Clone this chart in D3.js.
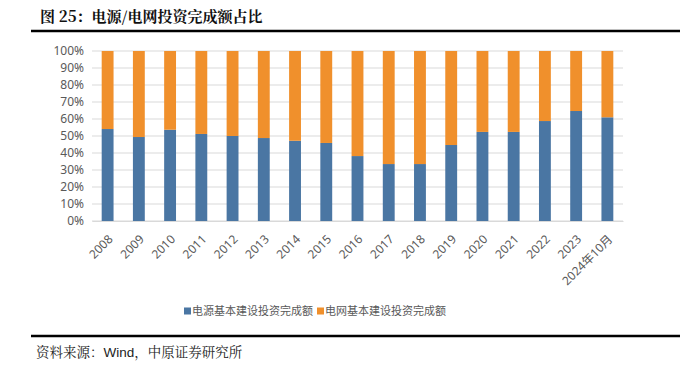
<!DOCTYPE html>
<html>
<head>
<meta charset="utf-8">
<script src="https://cdn.jsdelivr.net/npm/d3@7"></script>
<style>
  body { margin: 0; background: #fff; }
  svg { display: block; }
</style>
</head>
<body>
<svg id="chart"></svg>
<script>
// categories and shares (percent of total)
var years = ['2008', '2009', '2010', '2011', '2012', '2013', '2014', '2015', '2016',
    '2017', '2018', '2019', '2020', '2021', '2022', '2023', '2024年10月']
var powerSource = [54.1, 49.4, 53.7, 51.2, 50.0, 48.8, 47.2, 45.9, 38.2,
    33.5, 33.5, 44.7, 52.4, 52.4, 58.8, 64.7, 61.0]
var powerGrid = powerSource.map(function (d) { return +(100 - d).toFixed(1) })
var seriesNames = ['电源基本建设投资完成额', '电网基本建设投资完成额']
var yTicks = [0, 10, 20, 30, 40, 50, 60, 70, 80, 90, 100]

var colors = ['#4A76A3', '#F0902C']
var W = 680, H = 370
var margin = { top: 51, right: 57, bottom: 149, left: 92 }
var width = W - margin.left - margin.right
var height = H - margin.top - margin.bottom
var font = '"Noto Sans", "Noto Sans CJK SC", sans-serif'
var serif = '"Noto Serif CJK SC", "Noto Sans CJK SC", serif'

var svg = d3.select('#chart')
    .attr('width', W)
    .attr('height', H)

// title and rules
svg.append('text')
    .attr('x', 40).attr('y', 22)
    .attr('font-family', serif)
    .attr('font-size', 15).attr('font-weight', 'bold')
    .attr('fill', '#111')
    .text('图 25：电源/电网投资完成额占比')
svg.append('line')
    .attr('x1', 31).attr('x2', 680).attr('y1', 31).attr('y2', 31)
    .attr('stroke', '#000').attr('stroke-width', 2.5)
svg.append('line')
    .attr('x1', 31).attr('x2', 680).attr('y1', 336).attr('y2', 336)
    .attr('stroke', '#000').attr('stroke-width', 2.5)
var src = svg.append('text')
    .attr('x', 36).attr('y', 357)
    .attr('font-family', serif)
    .attr('font-size', 13.5).attr('fill', '#222')
src.append('tspan').text('资料来源：')
src.append('tspan').attr('font-family', '"Liberation Sans", Arial, sans-serif').text('Wind')
src.append('tspan').text('，中原证券研究所')

var g = svg.append('g')
    .attr('transform', 'translate(' + margin.left + ',' + margin.top + ')')

var x = d3.scaleBand()
    .domain(years)
    .range([0, width])
    .paddingInner(0.62)
    .paddingOuter(0.31)

var y = d3.scaleLinear()
    .domain([0, 100])
    .range([height, 0])

// gridlines
g.selectAll('.grid')
    .data(yTicks)
    .enter()
    .append('line')
    .attr('class', 'grid')
    .attr('x1', 0).attr('x2', width)
    .attr('y1', function (d) { return y(d) }).attr('y2', function (d) { return y(d) })
    .attr('stroke', '#d9d9d9').attr('stroke-width', 1)

// y axis labels
var yAxis = d3.axisLeft(y)
    .tickValues(yTicks)
    .tickSize(0)
    .tickPadding(8)
    .tickFormat(function (d) { return d + '%' })
var gy = g.append('g').call(yAxis)
gy.select('.domain').remove()
gy.selectAll('text')
    .attr('font-family', font).attr('font-size', 12).attr('fill', '#595959')

// stacked bars
var rows = years.map(function (yr, i) {
    return { year: yr, a: powerSource[i], b: powerGrid[i] }
})
var stack = d3.stack().keys(['a', 'b'])(rows)

g.selectAll('.series')
    .data(stack)
    .enter()
    .append('g')
    .attr('fill', function (d, i) { return colors[i] })
    .selectAll('rect')
    .data(function (d) { return d })
    .enter()
    .append('rect')
    .attr('x', function (d) { return x(d.data.year) })
    .attr('width', x.bandwidth())
    .attr('y', function (d) { return y(d[1]) })
    .attr('height', function (d) { return y(d[0]) - y(d[1]) })

// x axis
var xAxis = d3.axisBottom(x).tickSize(0)
var gx = g.append('g')
    .attr('transform', 'translate(0,' + height + ')')
    .call(xAxis)
gx.select('.domain').attr('stroke', '#d9d9d9')
gx.selectAll('text')
    .attr('font-family', font).attr('font-size', 12).attr('fill', '#595959')
    .attr('text-anchor', 'end')
    .attr('x', 0).attr('y', 0)
    .attr('dy', '0.35em')
    .attr('transform', 'translate(3,16) rotate(-45)')

// legend
var legend = svg.append('g').attr('transform', 'translate(184,311)')
var lx = [0, 133]
seriesNames.forEach(function (name, i) {
    legend.append('rect')
        .attr('x', lx[i]).attr('y', -3.5)
        .attr('width', 7).attr('height', 7)
        .attr('fill', colors[i])
    legend.append('text')
        .attr('x', lx[i] + 8).attr('y', 0)
        .attr('dy', '0.35em')
        .attr('font-family', font).attr('font-size', 11).attr('fill', '#595959')
        .text(name)
})
</script>
</body>
</html>
